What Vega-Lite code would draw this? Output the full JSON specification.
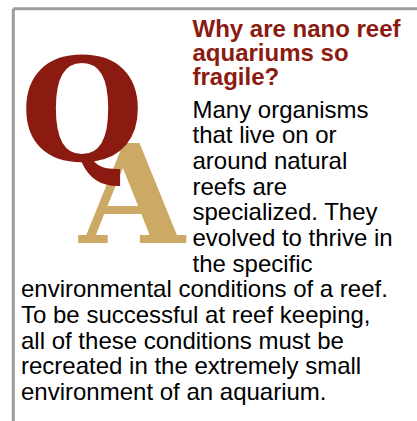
{
  "$schema": "https://vega.github.io/schema/vega-lite/v6.json",
  "width": 417,
  "height": 421,
  "padding": 0,
  "autosize": {"type": "none"},
  "background": "#ffffff",
  "config": {"view": {"stroke": null}},
  "datasets": {
    "lines": [
      {"line": 0, "text": "Why are nano reef", "role": "question", "indent": 1},
      {"line": 1, "text": "aquariums so", "role": "question", "indent": 1},
      {"line": 2, "text": "fragile?", "role": "question", "indent": 1},
      {"line": 3, "text": "Many organisms", "role": "answer", "indent": 1},
      {"line": 4, "text": "that live on or", "role": "answer", "indent": 1},
      {"line": 5, "text": "around natural", "role": "answer", "indent": 1},
      {"line": 6, "text": "reefs are", "role": "answer", "indent": 1},
      {"line": 7, "text": "specialized. They", "role": "answer", "indent": 1},
      {"line": 8, "text": "evolved to thrive in", "role": "answer", "indent": 1},
      {"line": 9, "text": "the specific", "role": "answer", "indent": 1},
      {"line": 10, "text": "environmental conditions of a reef.", "role": "answer", "indent": 0},
      {"line": 11, "text": "To be successful at reef keeping,", "role": "answer", "indent": 0},
      {"line": 12, "text": "all of these conditions must be", "role": "answer", "indent": 0},
      {"line": 13, "text": "recreated in the extremely small", "role": "answer", "indent": 0},
      {"line": 14, "text": "environment of an aquarium.", "role": "answer", "indent": 0}
    ],
    "one": [{"id": 1}],
    "glyphA": [{"glyph": "A"}],
    "glyphQ": [{"glyph": "Q"}]
  },
  "encoding": {
    "x": {"type": "quantitative", "scale": {"domain": [0, 1], "range": [21, 192.5], "zero": false, "nice": false}, "axis": null},
    "y": {"type": "quantitative", "scale": {"domain": [0, 2, 3, 14], "range": [37, 85, 117.5, 400], "zero": false, "nice": false}, "axis": null}
  },
  "layer": [
    {
      "data": {"name": "one"},
      "mark": {"type": "rule", "stroke": "#9c9c9c", "strokeWidth": 3},
      "encoding": {
        "x": {"datum": -0.0449, "type": "quantitative"},
        "x2": {"datum": 2.309},
        "y": {"datum": -1.179, "type": "quantitative"}
      }
    },
    {
      "data": {"name": "one"},
      "mark": {"type": "rule", "stroke": "#9c9c9c", "strokeWidth": 3},
      "encoding": {
        "x": {"datum": -0.0449, "type": "quantitative"},
        "y": {"datum": -1.179, "type": "quantitative"},
        "y2": {"datum": 14.82}
      }
    },
    {
      "data": {"name": "glyphA"},
      "mark": {"type": "text", "font": "DejaVu Serif", "fontWeight": "bold", "fontSize": 136, "align": "center", "baseline": "alphabetic", "color": "#CDA966"},
      "encoding": {
        "x": {"datum": 0.6472, "type": "quantitative"},
        "y": {"datum": 7.887, "type": "quantitative"},
        "text": {"field": "glyph"}
      }
    },
    {
      "data": {"name": "glyphQ"},
      "mark": {"type": "text", "font": "DejaVu Serif", "fontWeight": "bold", "fontSize": 142, "align": "center", "baseline": "alphabetic", "color": "#8B1A10"},
      "encoding": {
        "x": {"datum": 0.3557, "type": "quantitative"},
        "y": {"datum": 4.655, "type": "quantitative"},
        "text": {"field": "glyph"}
      }
    },
    {
      "data": {"name": "lines"},
      "transform": [{"filter": "datum.role === 'question'"}],
      "mark": {"type": "text", "font": "Liberation Sans", "fontWeight": "bold", "fontSize": 24, "align": "left", "baseline": "alphabetic", "color": "#8B1A10"},
      "encoding": {
        "x": {"field": "indent", "type": "quantitative"},
        "y": {"field": "line", "type": "quantitative"},
        "text": {"field": "text"}
      }
    },
    {
      "data": {"name": "lines"},
      "transform": [{"filter": "datum.role === 'answer'"}],
      "mark": {"type": "text", "font": "Liberation Sans", "fontSize": 24, "align": "left", "baseline": "alphabetic", "color": "#000000"},
      "encoding": {
        "x": {"field": "indent", "type": "quantitative"},
        "y": {"field": "line", "type": "quantitative"},
        "text": {"field": "text"}
      }
    }
  ]
}
